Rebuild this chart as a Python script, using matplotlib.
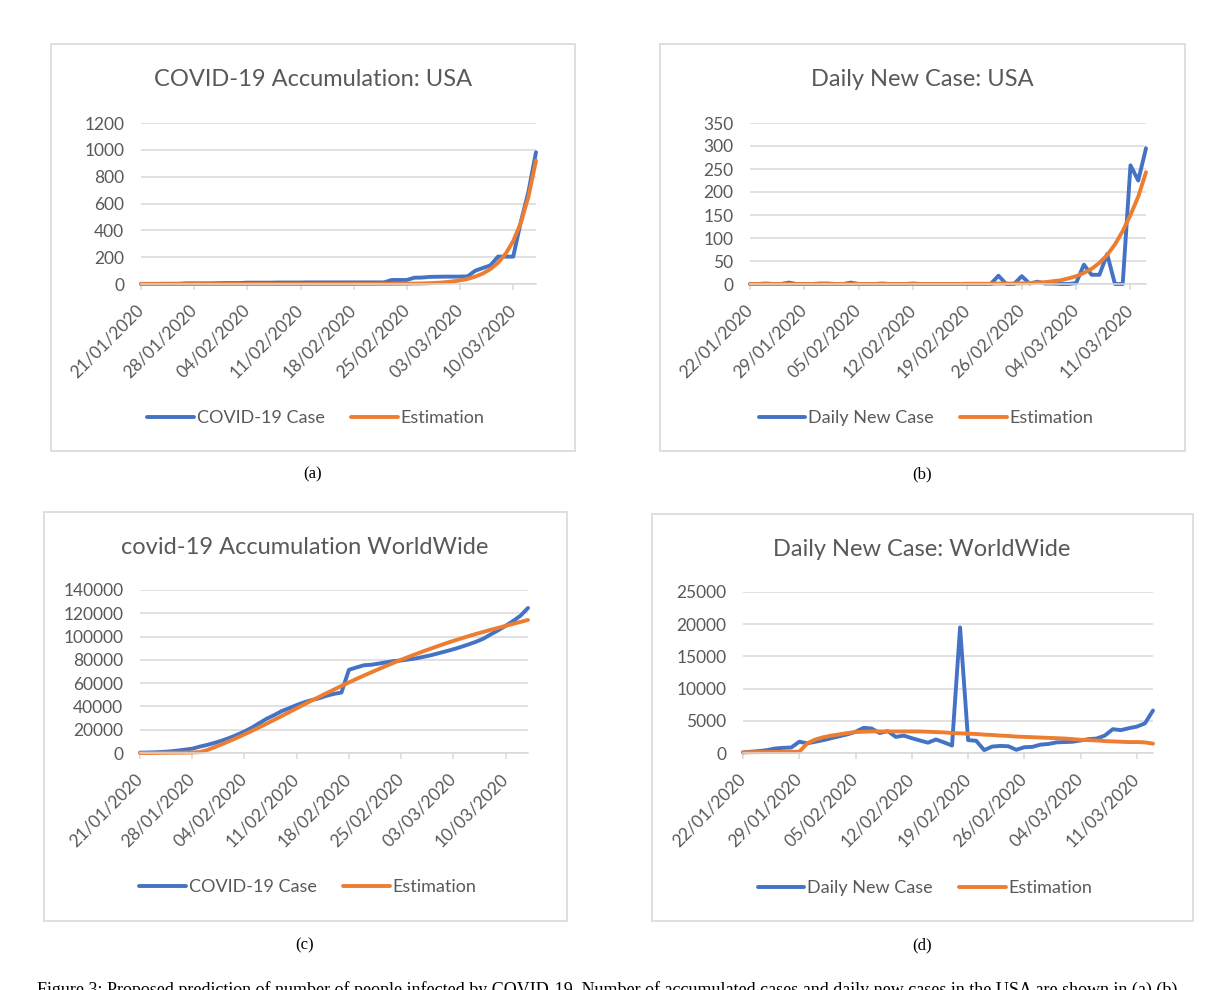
import matplotlib
matplotlib.use("Agg")
import matplotlib.pyplot as plt
import matplotlib.dates as mdates
from matplotlib.patches import Rectangle
import pandas as pd

# === data ===
usa_start = "2020-01-21"
usa_total = [1, 1, 1, 2, 2, 2, 5, 5, 5, 5,
             6, 7, 7, 7, 10, 10, 10, 10, 11, 11,
             11, 11, 12, 12, 12, 12, 12, 12, 12, 12,
             12, 12, 12, 30, 30, 30, 47, 48, 53, 54,
             55, 55, 55, 57, 99, 119, 139, 204, 204, 204,
             462, 687, 982]
usa_total_est = [0, 0, 0, 0, 0, 0, 0, 0, 0, 0,
                 0, 0, 0, 0, 0, 0, 0, 0, 0, 0,
                 0, 0, 0, 0, 0, 0, 0, 0, 0.5, 0.5,
                 0.5, 1, 1, 1, 1.5, 2, 3, 4, 6, 9,
                 13, 19, 27, 38, 55, 78, 111, 158, 225, 320,
                 455, 650, 920]

usa_daily_start = "2020-01-22"
usa_daily = [0, 0, 1, 0, 0, 3, 0, 0, 0, 1,
             1, 0, 0, 3, 0, 0, 0, 1, 0, 0,
             0, 1, 0, 0, 0, 0, 0, 0, 0, 0,
             0, 0, 18, 0, 0, 17, 1, 5, 1, 1,
             0, 0, 2, 42, 20, 20, 65, 0, 0, 258,
             225, 295]
usa_daily_est = [0, 0, 0, 0, 0, 0, 0, 0, 0, 0,
                 0, 0, 0, 0, 0, 0, 0, 0, 0, 0,
                 0, 0, 0, 0, 0, 0, 0, 0, 0.5, 0.5,
                 0.5, 0.5, 1, 1, 1, 1.5, 2, 3, 4, 6,
                 8, 12, 17, 24, 33, 46, 63, 86, 115, 150,
                 190, 243]

world_start = "2020-01-21"
world_total = [300, 400, 600, 900, 1350, 2050, 2850, 3700, 5450, 6950,
               8700, 10700, 13000, 15600, 18500, 21800, 25700, 29500, 32600, 36000,
               38500, 41200, 43500, 45450, 47050, 49150, 50800, 51950, 71450, 73450,
               75350, 75800, 76800, 77900, 78950, 79450, 80350, 81300, 82600, 84000,
               85650, 87350, 89100, 91050, 93200, 95450, 98150, 101850, 105400, 109250,
               113350, 117950, 124550]
world_total_est = [0, 50, 100, 150, 200, 250, 300, 400, 800, 2500,
                   5000, 7600, 10300, 13100, 16000, 19000, 22100, 25300, 28500, 31800,
                   35100, 38400, 41700, 45000, 48200, 51400, 54500, 57600, 60600, 63600,
                   66500, 69300, 72100, 74800, 77500, 80100, 82600, 85000, 87400, 89700,
                   92000, 94200, 96300, 98300, 100300, 102200, 104000, 105800, 107500, 109200,
                   110900, 112600, 114300]

world_daily_start = "2020-01-22"
world_daily = [100, 200, 300, 450, 700, 800, 850, 1750, 1500, 1750,
               2000, 2300, 2600, 2900, 3300, 3900, 3800, 3100, 3400, 2500,
               2700, 2300, 1950, 1600, 2100, 1650, 1150, 19500, 2000, 1900,
               450, 1000, 1100, 1050, 500, 900, 950, 1300, 1400, 1650,
               1700, 1750, 1950, 2150, 2250, 2700, 3700, 3550, 3850, 4100,
               4600, 6600]
world_daily_est = [100, 120, 140, 150, 160, 170, 180, 200, 1500, 2100,
                   2450, 2700, 2900, 3100, 3250, 3300, 3350, 3350, 3350, 3350,
                   3350, 3350, 3350, 3300, 3250, 3200, 3100, 3050, 3000, 2950,
                   2850, 2800, 2700, 2650, 2550, 2500, 2450, 2400, 2350, 2300,
                   2250, 2150, 2050, 2000, 1950, 1850, 1800, 1750, 1700, 1700,
                   1650, 1450]

caption = ("Figure 3: Proposed prediction of number of people infected by COVID-19. "
           "Number of accumulated cases and daily new cases in the USA are shown in (a) (b)")

# === style ===
BLUE = "#4472C4"
ORANGE = "#ED7D31"
GRID = "#D9D9D9"
TXT = "#595959"
W, H = 1230, 990

plt.rcParams["font.family"] = ["Lato", "DejaVu Sans"]

fig = plt.figure(figsize=(W / 100, H / 100), dpi=100)


def fpos(x0, y0, x1, y1):
    # pixel box (top-left origin) -> figure fraction [left, bottom, w, h]
    return [x0 / W, 1 - y1 / H, (x1 - x0) / W, (y1 - y0) / H]


def panel(box, plot, title, title_xy, start, values, est, ymax, ystep,
          names, legend_xy, tag, tag_xy):
    l, b, w, h = fpos(*box)
    fig.patches.append(Rectangle((l, b), w, h, transform=fig.transFigure,
                                 fill=False, ec=GRID, lw=1.2))
    ax = fig.add_axes(fpos(*plot))
    dates = pd.date_range(start, periods=len(values), freq="D")
    kw = dict(lw=2.8, solid_capstyle="round", solid_joinstyle="round", clip_on=False)
    ax.plot(dates, values, color=BLUE, label=names[0], **kw)
    ax.plot(dates, est, color=ORANGE, label=names[1], **kw)

    ax.set_xlim(dates[0], dates[-1])
    ax.set_ylim(0, ymax)
    ax.set_yticks(range(0, ymax + 1, ystep))
    ax.grid(axis="y", color=GRID, lw=1.1)
    ax.set_axisbelow(True)
    for s in ["top", "right", "left"]:
        ax.spines[s].set_visible(False)
    ax.spines["bottom"].set_color(GRID)
    ax.spines["bottom"].set_linewidth(1.1)

    ax.set_xticks(dates[::7])
    ax.xaxis.set_major_formatter(mdates.DateFormatter("%d/%m/%Y"))
    ax.tick_params(axis="x", length=4, color=GRID, width=1.1, pad=13,
                   labelsize=12.5, labelcolor=TXT)
    ax.tick_params(axis="y", length=0, pad=12, labelsize=12.5, labelcolor=TXT)
    for lbl in ax.get_xticklabels():
        lbl.set_rotation(45)
        lbl.set_ha("right")
        lbl.set_va("center")
        lbl.set_rotation_mode("anchor")

    fig.text(title_xy[0] / W, 1 - title_xy[1] / H, title, ha="center", va="center",
             fontsize=17, color=TXT)
    ax.legend(loc="center", bbox_to_anchor=(legend_xy[0] / W, 1 - legend_xy[1] / H),
              bbox_transform=fig.transFigure, ncol=2, frameon=False, fontsize=13,
              labelcolor=TXT, handlelength=2.6, handletextpad=0.15, columnspacing=1.45)
    fig.text(tag_xy[0] / W, 1 - tag_xy[1] / H, tag, ha="center", va="center",
             fontsize=12, family="Liberation Serif", color="black")
    return ax


panel((51, 44, 575, 451), (141, 123, 536, 284), "COVID-19 Accumulation: USA", (313, 80),
      usa_start, usa_total, usa_total_est, 1200, 200,
      ["COVID-19 Case", "Estimation"], (316, 418), "(a)", (313, 474))

panel((660, 44, 1185, 451), (750, 123, 1146, 284), "Daily New Case: USA", (922, 80),
      usa_daily_start, usa_daily, usa_daily_est, 350, 50,
      ["Daily New Case", "Estimation"], (926, 418), "(b)", (922, 474))

panel((44, 512, 567, 921), (140, 590, 528, 753), "covid-19 Accumulation WorldWide", (305, 547),
      world_start, world_total, world_total_est, 140000, 20000,
      ["COVID-19 Case", "Estimation"], (308, 887), "(c)", (305, 945))

panel((652, 514, 1193, 921), (743, 592, 1153, 753), "Daily New Case: WorldWide", (922, 549),
      world_daily_start, world_daily, world_daily_est, 25000, 5000,
      ["Daily New Case", "Estimation"], (925, 888), "(d)", (922, 945))

# caption runs off the bottom edge, as in the source page
fig.text(37 / W, 1 - 981 / H, caption, ha="left", va="top", fontsize=13,
         family="Liberation Serif", color="black")

fig.savefig("out.png", dpi=100)
